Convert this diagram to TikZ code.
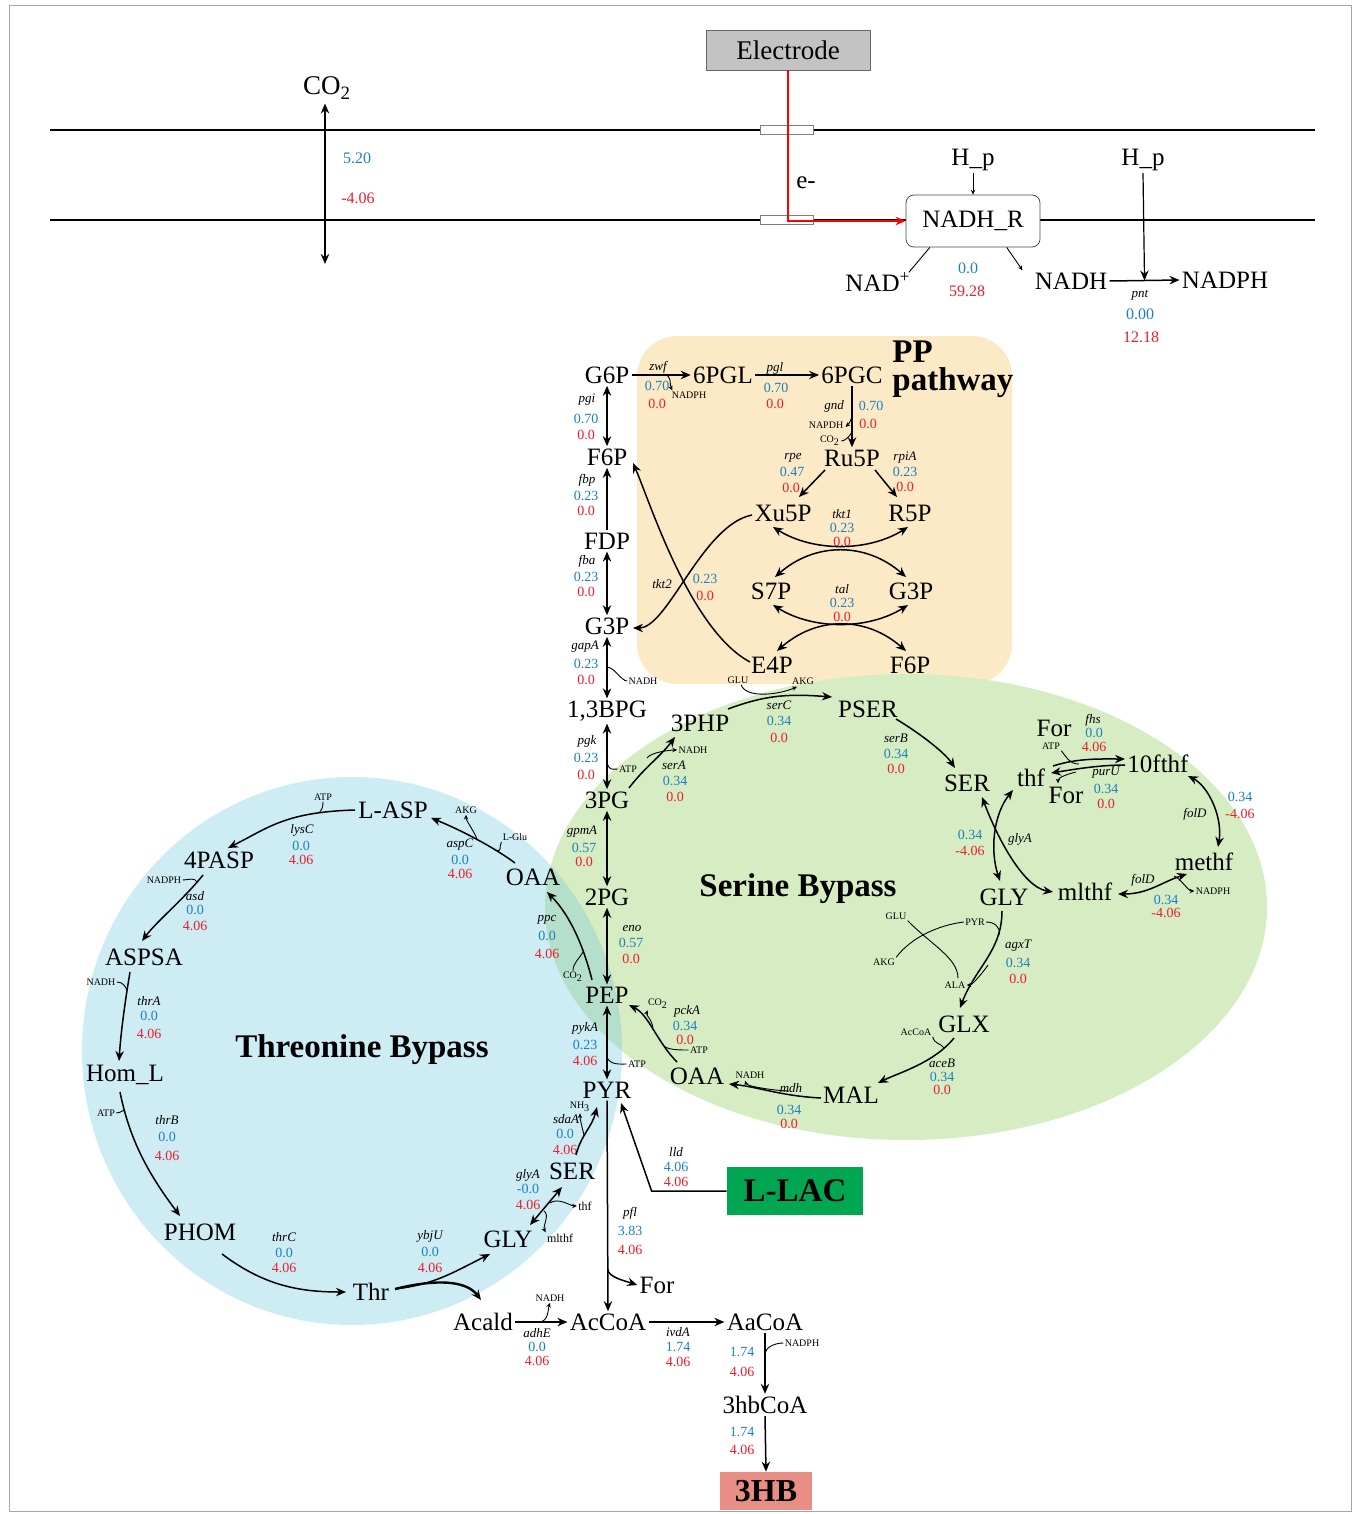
\documentclass[tikz,border=0pt]{standalone}
\usepackage{fontspec}
\setmainfont{Liberation Serif}
\usetikzlibrary{arrows.meta,calc}
\definecolor{fblue}{RGB}{30,128,190}
\definecolor{fred}{RGB}{235,30,45}
\definecolor{ppbg}{RGB}{252,234,198}
\definecolor{thbg}{RGB}{205,236,244}
\definecolor{sebg}{RGB}{214,237,196}
\definecolor{ovbg}{RGB}{180,223,202}
\definecolor{llac}{RGB}{0,166,81}
\definecolor{hbbox}{RGB}{232,142,132}
\definecolor{elecbg}{RGB}{195,195,195}
\tikzset{
 met/.style={font=\fontsize{12.5}{14}\selectfont, inner sep=1pt},
 enz/.style={font=\fontsize{6.5}{7}\selectfont\itshape, inner sep=0pt},
 bn/.style={font=\fontsize{7}{8}\selectfont, text=fblue, inner sep=0pt},
 rn/.style={font=\fontsize{7}{8}\selectfont, text=fred, inner sep=0pt},
 cof/.style={font=\fontsize{5}{6}\selectfont, inner sep=0.5pt},
 cofb/.style={font=\fontsize{6}{7}\selectfont, inner sep=0.5pt},
 ttl/.style={font=\fontsize{16.5}{17}\selectfont\bfseries, inner sep=0pt},
 topn/.style={font=\fontsize{8}{9}\selectfont, inner sep=0pt},
 ar/.style={line width=0.75pt, -{Stealth[length=5pt,width=4.2pt]}},
 dar/.style={line width=0.75pt, {Stealth[length=5pt,width=4.2pt]}-{Stealth[length=5pt,width=4.2pt]}},
 sar/.style={line width=0.45pt, -{Stealth[length=2.4pt,width=2.2pt]}},
 ln/.style={line width=0.45pt},
 pore/.style={draw=black!50, fill=white, minimum width=26.5pt, minimum height=4.5pt, inner sep=0pt},
}
\newcommand\fluxlab[7]{%
 \node[enz] (#1e) at (#2) {#3};
 \node[bn] (#1b) at (#4) {#5};
 \node[rn] (#1r) at (#6) {#7};}
\begin{document}
\begin{tikzpicture}[x=0.5pt,y=-0.5pt]
\path[use as bounding box] (0,0) rectangle (1356,1514);
\fill[white] (0,0) rectangle (1356,1514);
\draw[black!35, line width=0.5pt] (9,6) rectangle (1351,1511);
% backgrounds
\fill[ppbg, rounded corners=20pt] (637,336) rectangle (1012,684);
\fill[thbg] (352,1051) ellipse [x radius=270, y radius=274];
\fill[sebg] (906,907) ellipse [x radius=361, y radius=233];
\begin{scope}
\clip (352,1051) ellipse [x radius=270, y radius=274];
\fill[ovbg] (906,907) ellipse [x radius=361, y radius=233];
\end{scope}
% membrane
\draw[line width=1pt] (50,130) -- (1315,130);
\draw[line width=1pt] (50,220) -- (1315,220);
% ---------- top nodes
\node[draw=black!60, fill=elecbg, minimum width=82pt, minimum height=20pt, inner sep=0pt, font=\fontsize{13.5}{14}\selectfont] (elec) at (788,50) {Electrode};
\node[font=\fontsize{13.5}{14}\selectfont, inner sep=1pt] (co2) at (327,88) {CO\textsubscript{2}};
\coordinate (co2end) at (325,264);
\node[topn, text=fblue] (co2b) at (357,158) {5.20};
\node[topn, text=fred] (co2r) at (358,198) {-4.06};
\node[pore] (pore1) at (787,130) {};
\node[pore] (pore2) at (787,220) {};
\node[met] (eminus) at (806,183) {e-};
\node[draw=black!70, rounded corners=4pt, fill=white, minimum width=67pt, minimum height=26pt, inner sep=0pt, font=\fontsize{12.5}{14}\selectfont] (nadhr) at (973,221) {NADH\_R};
\node[met] (hp1) at (973,160) {H\_p};
\node[met] (hp2) at (1143,160) {H\_p};
\node[met] (nad) at (878,282) {NAD\textsuperscript{+}};
\node[topn,text=fblue] (nrb) at (968,268) {0.0};
\node[topn,text=fred] (nrr) at (967,291) {59.28};
\node[met] (nadh) at (1071,281) {NADH};
\node[met] (nadph) at (1225,280) {NADPH};
\node[enz] (pnte) at (1140,295) {pnt};
\node[topn,text=fblue] (pntb) at (1140,314) {0.00};
\node[topn,text=fred] (pntr) at (1141,337) {12.18};
% ---------- metabolites
\node[met] (G6P) at (607,375) {G6P};
\node[met] (PGL) at (723,375) {6PGL};
\node[met] (PGC) at (852,375) {6PGC};
\node[met] (F6P) at (607,457) {F6P};
\node[met] (FDP) at (607,541) {FDP};
\node[met] (G3P) at (607,626) {G3P};
\node[met] (BPG) at (607,711) {1,3BPG};
\node[met] (PG3) at (607,800) {3PG};
\node[met] (PG2) at (607,897) {2PG};
\node[met] (PEP) at (607,995) {PEP};
\node[met] (PYR) at (607,1090) {PYR};
\node[met] (AcCoA) at (608,1322) {AcCoA};
\node[met] (Ru5P) at (852,458) {Ru5P};
\node[met] (Xu5P) at (783,513) {Xu5P};
\node[met] (R5P) at (910,513) {R5P};
\node[met] (S7P) at (771,591) {S7P};
\node[met] (G3Pb) at (911,591) {G3P};
\node[met] (E4P) at (772,665) {E4P};
\node[met] (F6Pb) at (910,665) {F6P};
\node[met] (PHP) at (700,723) {3PHP};
\node[met] (PSER) at (868,709) {PSER};
\node[met] (SERs) at (967,783) {SER};
\node[met] (thf) at (1031,778) {thf};
\node[met] (Fort) at (1054,728) {For};
\node[met] (Forb) at (1066,795) {For};
\node[met] (fthf) at (1158,764) {10fthf};
\node[met] (methf) at (1204,862) {methf};
\node[met] (mlthf) at (1085,892) {mlthf};
\node[met] (GLYs) at (1004,897) {GLY};
\node[met] (GLX) at (964,1024) {GLX};
\node[met] (MAL) at (851,1095) {MAL};
\node[met] (OAAs) at (697,1076) {OAA};
\node[met] (OAAt) at (533,877) {OAA};
\node[met] (LASP) at (393,810) {L-ASP};
\node[met] (PASP) at (219,860) {4PASP};
\node[met] (ASPSA) at (144,957) {ASPSA};
\node[met] (HomL) at (125,1075) {Hom\_L};
\node[met] (PHOM) at (200,1232) {PHOM};
\node[met] (Thr) at (371,1292) {Thr};
\node[met] (GLYt) at (508,1239) {GLY};
\node[met] (SERt) at (572,1171) {SER};
\node[met] (Acald) at (483,1322) {Acald};
\node[met] (Forp) at (657,1285) {For};
\node[met] (AaCoA) at (765,1322) {AaCoA};
\node[met] (hbCoA) at (765,1405) {3hbCoA};
\node[fill=llac, minimum width=68pt, minimum height=24pt, inner sep=0pt, font=\fontsize{16.5}{17}\selectfont\bfseries] (LLAC) at (795,1191) {L-LAC};
\node[fill=hbbox, minimum width=46pt, minimum height=19pt, inner sep=0pt, font=\fontsize{16}{17}\selectfont\bfseries] (HB) at (766,1491) {3HB};
% titles
\node[ttl] (thtitle) at (362,1050) {Threonine Bypass};
\node[ttl] (setitle) at (798,889) {Serine Bypass};
\node[ttl, font=\fontsize{16.5}{14}\selectfont\bfseries, align=left, anchor=north west] (pptitle) at (892,340) {PP\\pathway};
% ---------- flux labels
\fluxlab{zwf}{658,367}{zwf}{657,386}{0.70}{657,404}{0.0}
\fluxlab{pgl}{775,368}{pgl}{776,388}{0.70}{775,404}{0.0}
\fluxlab{gnd}{834,406}{gnd}{871,406}{0.70}{868,424}{0.0}
\fluxlab{pgi}{587,400}{pgi}{586,419}{0.70}{586,435}{0.0}
\fluxlab{fbp}{587,480}{fbp}{586,496}{0.23}{586,511}{0.0}
\fluxlab{fba}{587,561}{fba}{586,577}{0.23}{586,592}{0.0}
\fluxlab{gapA}{585,647}{gapA}{586,664}{0.23}{586,680}{0.0}
\fluxlab{pgk}{587,741}{pgk}{586,758}{0.23}{586,775}{0.0}
\fluxlab{gpmA}{582,832}{gpmA}{584,848}{0.57}{584,862}{0.0}
\fluxlab{eno}{632,928}{eno}{631,943}{0.57}{631,959}{0.0}
\fluxlab{pykA}{585,1028}{pykA}{585,1045}{0.23}{585,1061}{4.06}
\fluxlab{pfl}{630,1213}{pfl}{630,1231}{3.83}{630,1250}{4.06}
\fluxlab{rpe}{793,458}{rpe}{792,472}{0.47}{791,488}{0.0}
\fluxlab{rpiA}{905,458}{rpiA}{905,472}{0.23}{905,487}{0.0}
\fluxlab{tktA}{842,514}{tkt1}{842,528}{0.23}{842,542}{0.0}
\fluxlab{tal}{842,589}{tal}{842,603}{0.23}{842,617}{0.0}
\fluxlab{tktB}{662,584}{tkt2}{705,579}{0.23}{705,596}{0.0}
\fluxlab{serA}{674,765}{serA}{675,781}{0.34}{675,797}{0.0}
\fluxlab{serC}{779,705}{serC}{779,721}{0.34}{779,738}{0.0}
\fluxlab{serB}{896,738}{serB}{896,754}{0.34}{896,769}{0.0}
\fluxlab{glyAs}{1020,839}{glyA}{970,835}{0.34}{970,851}{-4.06}
\fluxlab{fhs}{1093,720}{fhs}{1094,733}{0.0}{1094,747}{4.06}
\fluxlab{purU}{1106,773}{purU}{1106,789}{0.34}{1106,804}{0.0}
\fluxlab{folDa}{1195,814}{folD}{1240,797}{0.34}{1240,814}{-4.06}
\fluxlab{folDb}{1143,880}{folD}{1166,900}{0.34}{1166,913}{-4.06}
\fluxlab{agxT}{1018,946}{agxT}{1018,963}{0.34}{1018,979}{0.0}
\fluxlab{aceB}{942,1063}{aceB}{942,1077}{0.34}{942,1090}{0.0}
\fluxlab{mdh}{791,1088}{mdh}{789,1110}{0.34}{789,1124}{0.0}
\fluxlab{pckA}{687,1011}{pckA}{685,1026}{0.34}{685,1040}{0.0}
\fluxlab{ppc}{547,920}{ppc}{547,936}{0.0}{547,954}{4.06}
\fluxlab{aspC}{460,845}{aspC}{460,860}{0.0}{460,874}{4.06}
\fluxlab{lysC}{302,830}{lysC}{301,846}{0.0}{301,860}{4.06}
\fluxlab{asd}{195,896}{asd}{195,910}{0.0}{195,926}{4.06}
\fluxlab{thrA}{149,1001}{thrA}{149,1016}{0.0}{149,1034}{4.06}
\fluxlab{thrB}{167,1120}{thrB}{167,1137}{0.0}{167,1156}{4.06}
\fluxlab{thrC}{284,1237}{thrC}{284,1253}{0.0}{284,1268}{4.06}
\fluxlab{ybjU}{430,1236}{ybjU}{430,1252}{0.0}{430,1268}{4.06}
\fluxlab{glyAt}{528,1175}{glyA}{528,1189}{-0.0}{528,1205}{4.06}
\fluxlab{sdaA}{566,1119}{sdaA}{565,1134}{0.0}{565,1150}{4.06}
\fluxlab{adhE}{537,1333}{adhE}{537,1347}{0.0}{537,1361}{4.06}
\fluxlab{ivdA}{678,1332}{ivdA}{678,1347}{1.74}{678,1362}{4.06}
\fluxlab{lld}{676,1152}{lld}{676,1167}{4.06}{676,1182}{4.06}
\node[bn] (hbdb) at (742,1352) {1.74};
\node[rn] (hbdr) at (742,1372) {4.06};
\node[bn] (hbtb) at (742,1432) {1.74};
\node[rn] (hbtr) at (742,1450) {4.06};
% ---------- cofactors
\node[cof] (c1) at (689,395) {NADPH};
\node[cof] (c2) at (826,425) {NAPDH};
\node[cof] (c3) at (830,441) {CO\textsubscript{2}};
\node[cof] (c4) at (643,681) {NADH};
\node[cof] (c5) at (628,769) {ATP};
\node[cof] (c6) at (637,1064) {ATP};
\node[cof] (c7) at (738,680) {GLU};
\node[cof] (c8) at (803,681) {AKG};
\node[cof] (c9) at (693,750) {NADH};
\node[cof] (c10) at (1051,746) {ATP};
\node[cof] (c11) at (1213,891) {NADPH};
\node[cof] (c12) at (975,922) {PYR};
\node[cof] (c13) at (955,985) {ALA};
\node[cof] (c14) at (896,916) {GLU};
\node[cof] (c15) at (884,962) {AKG};
\node[cof] (c16) at (916,1032) {AcCoA};
\node[cof] (c17) at (750,1075) {NADH};
\node[cof] (c18) at (658,1004) {CO\textsubscript{2}};
\node[cof] (c19) at (699,1050) {ATP};
\node[cof] (c20) at (573,977) {CO\textsubscript{2}};
\node[cof] (c21) at (466,810) {AKG};
\node[cof] (c22) at (515,837) {L-Glu};
\node[cof] (c23) at (323,797) {ATP};
\node[cof] (c24) at (164,880) {NADPH};
\node[cof] (c25) at (101,982) {NADH};
\node[cof] (c26) at (106,1113) {ATP};
\node[cofb] (c27) at (585,1206) {thf};
\node[cofb] (c28) at (560,1238) {mlthf};
\node[cof] (c29) at (580,1107) {NH\textsubscript{3}};
\node[cof] (c30) at (550,1298) {NADH};
\node[cof] (c31) at (802,1343) {NADPH};
% ---------- top connectors
\draw[dar, line width=1.1pt] ($(co2.south)+(-2,2)$) -- (co2end);
\draw[red, line width=1pt, -{Stealth[length=5pt,width=4.2pt]}] (elec.south) |- (nadhr.west);
\draw[sar] (hp1.south) -- (nadhr.north);
\draw[ln] ($(nadhr.south west)!0.18!(nadhr.south east)$) -- ($(nad.north east)+(-4,2)$);
\draw[sar] ($(nadhr.south west)!0.75!(nadhr.south east)$) -- ($(nadh.north west)+(-10,0)$);
\coordinate (pntm) at ($(nadh.east)!0.5!(nadph.west)$);
\draw[ar] (nadh.east) -- (nadph.west);
\draw[ar, line width=0.6pt] (hp2.south) -- (pntm);
% ---------- glycolysis / PP
\draw[ar] (G6P.east) -- (PGL.west);
\draw[ar] (PGL.east) -- (PGC.west);
\draw[ar] (PGC.south) -- (Ru5P.north);
\draw[dar] (G6P.south) -- (F6P.north);
\draw[ar] (FDP.north) -- (F6P.south);
\draw[dar] (FDP.south) -- (G3P.north);
\draw[dar] (G3P.south) -- (BPG.north);
\draw[dar] (BPG.south) -- (PG3.north);
\draw[dar] (PG3.south) -- (PG2.north);
\draw[dar] (PG2.south) -- (PEP.north);
\draw[dar] (PEP.south) -- (PYR.north);
\draw[ar] (PYR.south) -- (AcCoA.north);
\draw[ar] ($(PYR.south)!0.8!(AcCoA.north)$) .. controls +(0,8) and +(-12,-4) .. (Forp.west);
\draw[ar] (Acald.east) -- (AcCoA.west);
\draw[ar] (AcCoA.east) -- (AaCoA.west);
\draw[ar] (AaCoA.south) -- (hbCoA.north);
\draw[ar] (hbCoA.south) -- (HB.north);
\coordinate (llk) at ($(LLAC.west)+(-75,0)$);
\draw[ar] (LLAC.west) -- (llk) -- ($(PYR)+(14,13)$);
\draw[ar] ($(Ru5P)+(-27,12)$) -- ($(Xu5P)+(16,-16)$);
\draw[ar] ($(Ru5P)+(23,12)$) -- ($(R5P)+(-13,-16)$);
\draw[dar] ($(Xu5P)+(-10,14)$) .. controls +(40,25) and +(-40,25) .. ($(R5P)+(-2,14)$);
\draw[dar] ($(S7P)+(4,-14)$) .. controls +(40,-35) and +(-40,-35) .. ($(G3Pb)+(-5,-14)$);
\draw[dar] ($(S7P)+(2,14)$) .. controls +(40,25) and +(-40,25) .. ($(G3Pb)+(-3,14)$);
\draw[dar] ($(E4P)+(5,-14)$) .. controls +(40,-35) and +(-40,-35) .. ($(F6Pb)+(-4,-14)$);
\draw[ar] ($(Xu5P)+(-31,2)$) .. controls +(-50,10) and +(35,0) .. ($(G3P)+(26,2)$);
\draw[ar] ($(E4P)+(-22,-3)$) .. controls +(-60,-32) and +(17,39) .. ($(F6P)+(26,6)$);
% cofactor curls (PP / glycolysis)
\draw[sar] ($(G6P.east)!0.55!(PGL.west)$) .. controls +(8,0) and +(-3,-6) .. ($(c1.north west)+(2,0)$);
\draw[sar] ($(PGC.south)!0.5!(Ru5P.north)$) .. controls +(-2,6) and +(3,-3) .. ($(c2.east)+(1,2)$);
\draw[ln] ($(PGC.south)!0.75!(Ru5P.north)$) .. controls +(-2,4) and +(4,0) .. (c3.east);
\draw[ln] ($(G3P.south)!0.5!(BPG.north)$) .. controls +(6,-2) and +(-6,0) .. (c4.west);
\draw[ln] ($(BPG.south)!0.6!(PG3.north)$) .. controls +(3,8) and +(-6,0) .. (c5.west);
\draw[ln] ($(PEP.south)!0.7!(PYR.north)$) .. controls +(3,8) and +(-6,0) .. (c6.west);
% ---------- serine bypass
\draw[ar] ($(PG3)+(22,-12)$) .. controls +(15,-20) and +(-15,20) .. ($(PHP)+(-25,14)$);
\draw[ar] ($(PHP)+(28,-14)$) .. controls +(40,-15) and +(-40,-3) .. ($(PSER)+(-36,-12)$);
\draw[ar] ($(PSER)+(28,10)$) .. controls +(25,15) and +(-10,-15) .. ($(SERs)+(-12,-15)$);
\draw[dar] ($(thf)+(-18,12)$) .. controls +(-20,25) and +(-10,-30) .. ($(GLYs)+(-4,-16)$);
\draw[dar] ($(SERs)+(15,14)$) .. controls +(15,40) and +(-30,-5) .. ($(mlthf)+(-32,0)$);
\draw[ar] ($(thf)+(22,-12)$) .. controls +(25,-8) and +(-25,0) .. ($(fthf)+(-33,-5)$);
\draw[ar] ($(fthf)+(-33,1)$) .. controls +(-25,0) and +(25,-4) .. ($(thf)+(20,-5)$);
\draw[dar] ($(fthf)+(30,12)$) .. controls +(20,10) and +(5,-30) .. ($(methf)+(14,-15)$);
\draw[dar] ($(mlthf)+(33,2)$) .. controls +(30,0) and +(-25,8) .. ($(methf)+(-17,12)$);
\draw[ar] ($(GLYs)+(-2,14)$) .. controls +(0,40) and +(15,-40) .. ($(GLX)+(-4,-16)$);
\draw[ar] ($(GLX)+(-10,14)$) .. controls +(-20,25) and +(20,-10) .. ($(MAL)+(27,-12)$);
\draw[ar] ($(MAL)+(-30,3)$) .. controls +(-40,-2) and +(30,3) .. ($(OAAs)+(32,8)$);
\draw[ar] ($(OAAs)+(-20,-14)$) .. controls +(-20,-20) and +(20,10) .. ($(PEP)+(22,10)$);
% cofactor curls (serine)
\draw[sar] ($(c7.south)+(3,0)$) .. controls +(5,14) and +(-18,8) .. ($(c8.south)+(-6,1)$);
\draw[sar] ($(PG3)+(40,-42)$) .. controls +(4,-6) and +(-6,0) .. (c9.west);
\draw[ln] (c10.south east) .. controls +(5,6) and +(-10,0) .. ($(thf)+(48,-14)$);
\draw[sar] ($(thf)+(45,-6)$) .. controls +(-8,2) and +(0,-6) .. ($(Forb.north)+(-8,-1)$);
\draw[sar] ($(methf)+(-30,14)$) .. controls +(6,2) and +(-6,0) .. (c11.west);
\draw[ln] (c12.east) .. controls +(8,0) and +(2,-8) .. ($(GLYs)+(-5,38)$);
\draw[sar] ($(GLYs)+(-16,68)$) .. controls +(-4,6) and +(6,0) .. (c13.east);
\draw[ln] (c14.south east) .. controls +(25,25) and +(0,-20) .. ($(c13.north)+(3,-2)$);
\draw[ln] (c15.north east) .. controls +(15,-20) and +(-25,3) .. (c12.west);
\draw[ln] (c16.south east) .. controls +(2,8) and +(-3,-5) .. ($(GLX)+(-20,24)$);
\draw[sar] ($(MAL)+(-62,-4)$) .. controls +(-10,0) and +(2,6) .. ($(c17.south)+(-5,1)$);
\draw[sar] ($(OAAs)+(-44,-46)$) .. controls +(0,-10) and +(-2,5) .. ($(c18.south west)+(1,0)$);
\draw[ln] (c19.west) .. controls +(-8,0) and +(4,4) .. ($(OAAs)+(-33,-30)$);
% ---------- threonine bypass
\draw[ar] ($(PEP)+(-15,-15)$) .. controls +(-10,-40) and +(20,20) .. ($(OAAt)+(14,15)$);
\draw[ar] ($(OAAt)+(-18,-14)$) .. controls +(-20,-15) and +(30,12) .. ($(LASP)+(38,8)$);
\draw[ar] ($(LASP)+(-38,0)$) .. controls +(-70,2) and +(40,-20) .. ($(PASP)+(9,-12)$);
\draw[ar] ($(PASP)+(-16,15)$) .. controls +(-20,25) and +(15,-20) .. ($(ASPSA)+(-2,-16)$);
\draw[ar] ($(ASPSA)+(-14,15)$) .. controls +(-5,30) and +(2,-30) .. ($(HomL)+(-6,-14)$);
\draw[ar] ($(HomL)+(-5,17)$) .. controls +(10,50) and +(-30,-40) .. ($(PHOM)+(-20,-16)$);
\draw[ar] ($(PHOM)+(22,22)$) .. controls +(40,30) and +(-50,0) .. ($(Thr)+(-25,0)$);
\draw[ar] ($(Thr)+(24,-3)$) .. controls +(40,-5) and +(-40,20) .. ($(GLYt)+(-18,15)$);
\draw[ar, line width=1.2pt] ($(Thr)+(24,-3)$) .. controls +(40,-10) and +(-15,-20) .. ($(Acald)+(-2,-22)$);
\draw[dar] ($(SERt)+(-10,16)$) -- ($(GLYt)+(22,-14)$);
\draw[ar] ($(SERt)+(4,-16)$) .. controls +(5,-20) and +(-5,20) .. ($(PYR)+(-10,17)$);
% cofactor curls (threonine)
\draw[ln] (c20.north) .. controls +(0,-8) and +(-3,6) .. ($(PEP)+(-24,-43)$);
\draw[sar] ($(OAAt)+(-56,-38)$) .. controls +(-3,-8) and +(0,6) .. (c21.south);
\draw[ln] (c22.south west) .. controls +(-3,6) and +(8,2) .. ($(OAAt)+(-38,-27)$);
\draw[ln] (c23.south) .. controls +(0,6) and +(3,-4) .. ($(LASP)+(-74,3)$);
\draw[ln] (c24.east) .. controls +(5,0) and +(-2,-5) .. ($(PASP)+(-22,22)$);
\draw[ln] (c25.east) .. controls +(6,0) and +(-2,-4) .. ($(ASPSA)+(-17,33)$);
\draw[ln] (c26.east) .. controls +(6,0) and +(-2,-4) .. ($(HomL)+(0,37)$);
\draw[sar] ($(SERt)+(-22,32)$) .. controls +(8,-6) and +(-6,0) .. (c27.west);
\draw[sar] ($(SERt)+(-28,40)$) .. controls +(6,4) and +(-3,-6) .. (c28.north west);
\draw[sar] ($(SERt)+(12,-36)$) .. controls +(-2,-8) and +(0,6) .. (c29.south);
\draw[sar] ($(Acald.east)!0.45!(AcCoA.west)$) .. controls +(10,0) and +(-2,6) .. (c30.south);
\draw[ln] ($(AaCoA.south)+(0,22)$) .. controls +(0,-8) and +(-8,0) .. (c31.west);
\end{tikzpicture}
\end{document}
